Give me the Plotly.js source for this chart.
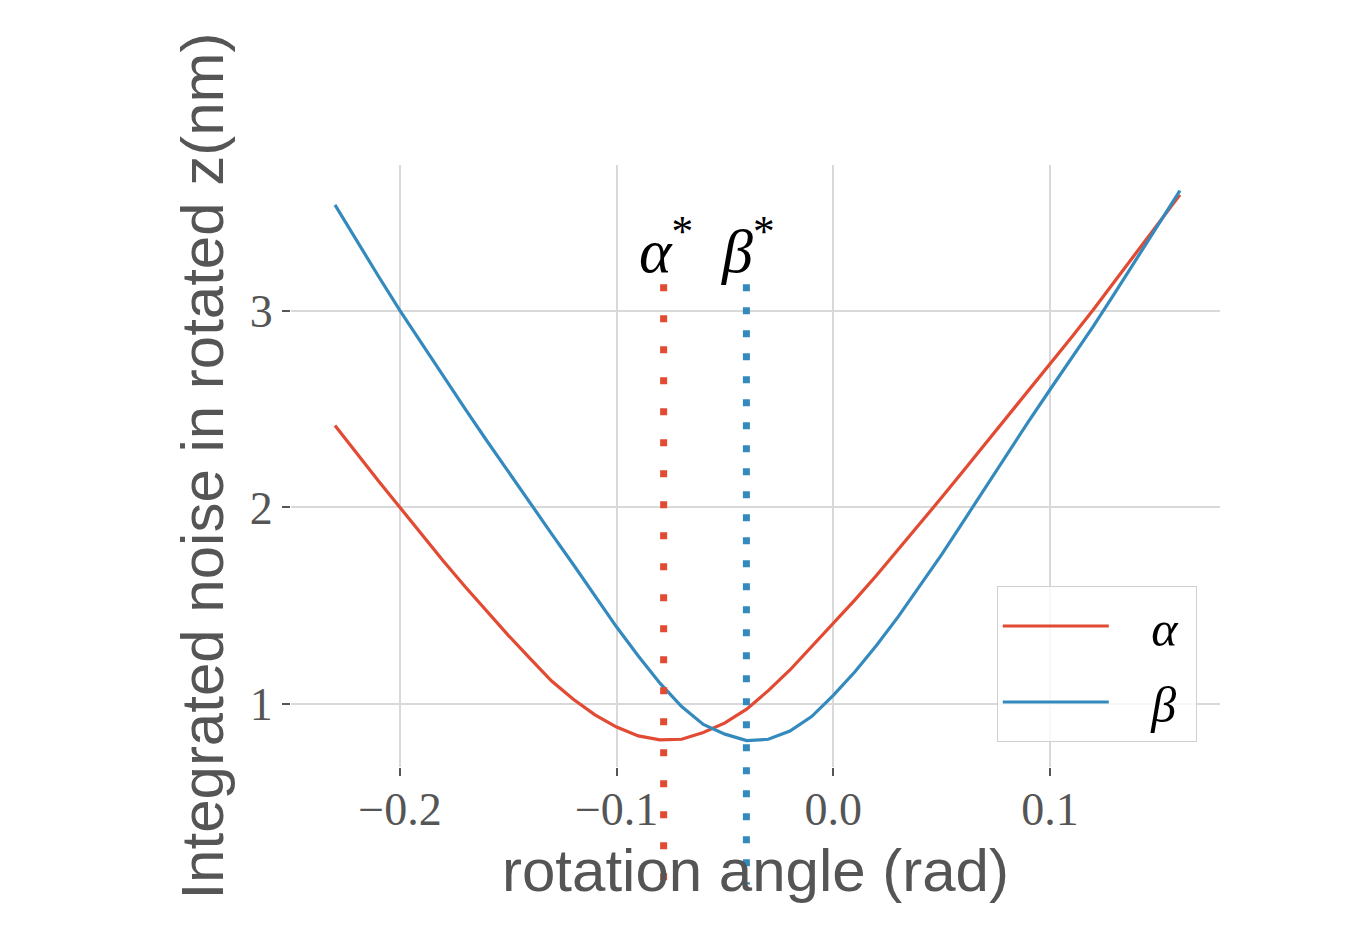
<!DOCTYPE html>
<html>
<head>
<meta charset="utf-8">
<script src="https://cdn.plot.ly/plotly-3.0.1.min.js"></script>
<style>
  body { margin: 0; background: #ffffff; }
  #graph { width: 1366px; height: 925px; }
</style>
</head>
<body>
<div id="graph"></div>
<script>
// rotation angle (rad)
var angle = [-0.23, -0.22, -0.21, -0.20, -0.19, -0.18, -0.17, -0.16, -0.15, -0.14,
             -0.13, -0.12, -0.11, -0.10, -0.09, -0.08, -0.07, -0.06, -0.05, -0.04,
             -0.03, -0.02, -0.01, 0.00, 0.01, 0.02, 0.03, 0.04, 0.05, 0.06,
             0.07, 0.08, 0.09, 0.10, 0.11, 0.12, 0.13, 0.14, 0.15, 0.16];

// integrated noise (nm)
var noise_alpha = [2.416, 2.275, 2.136, 2.000, 1.862, 1.728, 1.598, 1.472, 1.350, 1.233,
                   1.118, 1.025, 0.946, 0.884, 0.839, 0.819, 0.822, 0.856, 0.905, 0.975,
                   1.069, 1.174, 1.293, 1.408, 1.530, 1.655, 1.785, 1.915, 2.050, 2.185,
                   2.320, 2.455, 2.590, 2.730, 2.865, 3.005, 3.150, 3.295, 3.440, 3.588];

var noise_beta = [3.537, 3.355, 3.176, 3.000, 2.832, 2.666, 2.502, 2.340, 2.180, 2.022,
                  1.866, 1.710, 1.553, 1.392, 1.245, 1.107, 0.988, 0.897, 0.848, 0.815,
                  0.822, 0.864, 0.937, 1.045, 1.165, 1.300, 1.445, 1.600, 1.760, 1.928,
                  2.098, 2.268, 2.435, 2.598, 2.760, 2.920, 3.090, 3.262, 3.435, 3.610];

// optimal angles
var alpha_star = -0.0783;
var beta_star = -0.0401;

var red = '#E24A33';
var blue = '#348ABD';


function dotted_marker(x, color, dash)
{
    return {
        type: 'line', xref: 'x', yref: 'paper',
        x0: x, x1: x, y0: 0.802, y1: -0.195,
        line: {color: color, width: 7, dash: dash},
        layer: 'above'
    };
}


function star_label(x, text)
{
    return {
        x: x, y: 3.33, xref: 'x', yref: 'y',
        text: text, showarrow: false,
        xanchor: 'center', yanchor: 'middle', xshift: 2,
        font: {family: 'Liberation Serif', size: 62, color: '#000000'}
    };
}


window.onload = () =>
{
    var traces = [
        {x: angle, y: noise_alpha, type: 'scatter', mode: 'lines',
         name: '&nbsp;&nbsp;&nbsp;<i>α</i>&nbsp;', legendgroup: 'a',
         line: {color: red, width: 3.2}},
        {x: angle, y: noise_beta, type: 'scatter', mode: 'lines',
         name: '&nbsp;&nbsp;&nbsp;<i>β</i>&nbsp;', legendgroup: 'b',
         line: {color: blue, width: 3.2}}
    ];

    var axis_common = {
        showgrid: true, gridcolor: '#d9d9d9', gridwidth: 2,
        zeroline: false, showline: false,
        ticks: 'outside', ticklen: 8, tickwidth: 2, tickcolor: '#555555',
        tickfont: {family: 'Liberation Serif', size: 46, color: '#555555'}
    };

    var layout = {
        width: 1366, height: 925,
        margin: {l: 291, r: 146, t: 165, b: 158},
        paper_bgcolor: '#ffffff', plot_bgcolor: '#ffffff',
        showlegend: true,
        xaxis: Object.assign({}, axis_common, {
            range: [-0.2503, 0.1785], dtick: 0.1, tick0: 0, tickformat: '.1f',
            ticklabelstandoff: -6,
            title: {text: 'rotation angle (rad)', standoff: 14,
                    font: {family: 'Liberation Sans', size: 60, color: '#555555'}}
        }),
        yaxis: Object.assign({}, axis_common, {
            range: [0.681, 3.740], dtick: 1, tick0: 0, tickformat: 'd',
            title: {text: 'Integrated noise in rotated z(nm)', standoff: 6,
                    font: {family: 'Liberation Sans', size: 60, color: '#555555'}}
        }),
        legend: {
            x: 0.975, y: 0.0415, xanchor: 'right', yanchor: 'bottom',
            bgcolor: 'rgba(255,255,255,0.8)', bordercolor: '#d0d0d0', borderwidth: 1,
            font: {family: 'Liberation Serif', size: 50, color: '#000000'},
            itemwidth: 106, traceorder: 'grouped', tracegroupgap: 8
        },
        shapes: [
            dotted_marker(alpha_star, red, '7px,24px'),
            dotted_marker(beta_star, blue, '7px,16px')
        ],
        annotations: [
            star_label(alpha_star, '<i>α</i><sup>*</sup>'),
            star_label(beta_star, '<i>β</i><sup>*</sup>')
        ]
    };

    Plotly.newPlot('graph', traces, layout, {displayModeBar: false, staticPlot: true});
};
</script>
</body>
</html>
